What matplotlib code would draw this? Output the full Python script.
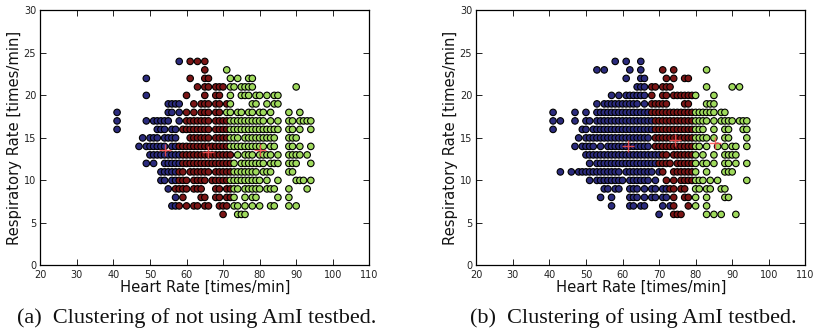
import matplotlib
matplotlib.use("Agg")
import matplotlib.pyplot as plt

# Heart-rate readings (times/min) grouped by respiratory rate (times/min), per cluster.
# Panel (a): not using the AmI testbed
A_BLUE = {
    24: [58],
    22: [49],
    20: [49],
    19: [55, 56, 57, 58],
    18: [41, 55, 56, 58],
    17: [41, 49, 51, 52, 53, 54, 55, 58],
    16: [41, 52, 53, 54, 56, 57],
    15: [48, 50, 51, 52, 54, 55, 56, 57],
    14: [47, 49, 50, 51, 52, 53, 54, 56, 57],
    13: [50, 51, 52, 53, 54, 55, 56, 57, 58],
    12: [49, 51, 54, 55, 56, 57, 58],
    11: [53, 54, 55, 56, 57],
    10: [53, 54, 56, 57],
    9: [55],
    8: [57],
    7: [56, 57],
}
A_RED = {
    24: [61, 63, 65],
    23: [65],
    22: [61, 65, 66],
    21: [63, 65, 66, 68, 69, 70],
    20: [60, 65, 68, 69],
    19: [62, 64, 65, 66, 68, 69, 71],
    18: [60, 62, 64, 65, 66, 68, 69],
    17: [60, 61, 62, 63, 64, 65, 66, 68, 69, 70, 71],
    16: [59, 60, 61, 62, 63, 64, 65, 66, 68, 69, 70, 71],
    15: [61, 62, 63, 64, 65, 66, 68, 69, 70, 71],
    14: [58, 59, 60, 61, 62, 63, 64, 65, 66, 67, 68, 69, 70, 71],
    13: [59, 60, 61, 62, 63, 64, 65, 66, 67, 68, 69, 70, 71, 72],
    12: [59, 60, 61, 62, 63, 64, 65, 66, 67, 68, 69, 70, 71, 72],
    11: [58, 59, 61, 62, 63, 64, 65, 66, 68, 69, 70, 71, 72],
    10: [58, 59, 60, 62, 63, 64, 65, 67, 68, 69, 70, 71],
    9: [57, 58, 59, 60, 62, 63, 64, 68, 69, 71, 72],
    8: [59, 64, 65, 68, 69, 71, 72],
    7: [58, 60, 62, 63, 65, 66, 69, 70, 71],
    6: [70],
}
A_GREEN = {
    23: [71],
    22: [72, 74, 77, 78],
    21: [72, 73, 75, 76, 77, 78, 90],
    20: [72, 75, 76, 77, 79, 80, 82, 84, 85],
    19: [72, 78, 79, 82, 84, 85],
    18: [71, 72, 74, 75, 77, 78, 80, 81, 83, 88, 91],
    17: [72, 73, 74, 75, 76, 77, 78, 79, 80, 81, 83, 85, 88, 89, 91, 92, 93, 94],
    16: [72, 73, 74, 75, 76, 77, 78, 79, 80, 81, 82, 83, 84, 85, 88, 89, 91, 94],
    15: [72, 73, 74, 76, 77, 78, 79, 80, 81, 82, 83, 84, 88, 89, 90],
    14: [72, 73, 74, 75, 76, 77, 78, 79, 80, 81, 83, 84, 88, 89, 91, 94],
    13: [74, 76, 77, 78, 80, 81, 82, 83, 85, 88, 89, 90, 91, 93],
    12: [73, 75, 76, 77, 78, 79, 80, 81, 83, 84, 85, 88, 89, 90, 94],
    11: [73, 74, 75, 76, 77, 78, 79, 81, 82, 83, 88, 89],
    10: [72, 73, 74, 75, 76, 77, 78, 79, 80, 82, 85, 90, 91, 92, 94],
    9: [73, 74, 76, 77, 78, 79, 80, 82, 83, 84, 88, 93],
    8: [73, 76, 78, 79, 85, 88],
    7: [73, 74, 76, 78, 80, 83, 84, 88, 90],
    6: [74, 75, 76],
}
A_CENTERS_HR = [54, 66, 80]
A_CENTERS_RR = [13.6, 13.3, 13.6]

# Panel (b): using the AmI testbed
B_BLUE = {
    24: [58, 61, 65],
    23: [53, 55, 62, 65],
    22: [61, 65, 66],
    21: [64, 65, 66],
    20: [57, 59, 61, 62, 63, 64, 65, 66],
    19: [53, 55, 56, 57, 58, 59, 60, 61, 62, 63, 64, 66],
    18: [41, 47, 50, 53, 54, 55, 56, 57, 58, 59, 60, 61, 62, 63, 64, 65, 66, 67],
    17: [41, 43, 47, 50, 51, 53, 54, 55, 56, 57, 58, 59, 60, 61, 62, 63, 64, 65, 66, 67, 68],
    16: [41, 49, 50, 52, 53, 54, 55, 56, 57, 58, 59, 60, 61, 62, 63, 64, 65, 66, 67, 68],
    15: [48, 50, 51, 52, 53, 54, 55, 56, 57, 58, 59, 60, 61, 62, 63, 64, 65, 66, 67],
    14: [47, 49, 50, 51, 52, 54, 56, 57, 58, 59, 60, 61, 62, 63, 64, 65, 66, 67],
    13: [50, 51, 52, 53, 54, 55, 56, 57, 58, 59, 60, 61, 62, 63, 64, 65, 66, 67, 68, 69, 70],
    12: [51, 53, 54, 55, 56, 57, 58, 59, 60, 61, 62, 63, 64, 65, 66, 67, 68, 69],
    11: [43, 46, 48, 49, 50, 51, 52, 53, 54, 55, 56, 57, 58, 59, 61, 62, 63, 64, 65, 66, 67, 68, 70],
    10: [51, 53, 54, 55, 56, 57, 58, 59, 60, 62, 63, 64, 65, 66, 67, 69],
    9: [55, 56, 58, 59, 62, 63, 64, 66, 68, 69, 71, 72],
    8: [54, 57, 62, 63, 64, 66, 68, 69, 71, 72],
    7: [57, 62, 63, 65, 66, 71, 73],
    6: [70],
}
B_RED = {
    23: [71, 74],
    22: [72, 74, 77, 78],
    21: [68, 69, 71, 72, 73],
    20: [68, 71, 72, 74, 75, 76, 77, 78, 79],
    19: [68, 69, 70, 71, 72, 77, 78],
    18: [68, 69, 70, 71, 72, 73, 74, 75, 76, 77, 78, 79],
    17: [69, 70, 71, 72, 73, 74, 75, 76, 77, 78, 79],
    16: [69, 70, 71, 72, 73, 74, 75, 76, 77, 78, 79],
    15: [69, 70, 71, 72, 73, 74, 75, 76, 77, 78, 79],
    14: [69, 70, 71, 72, 73, 74, 75, 76, 77, 78, 79],
    13: [71, 72, 74, 75, 76, 77, 78, 79],
    12: [70, 71, 72, 73, 75, 76, 77, 78, 79],
    11: [71, 74, 75, 76, 77, 78, 79],
    10: [72, 74, 76, 77, 78, 79],
    9: [73, 74, 76, 77],
    8: [74, 77, 78],
    7: [74, 78],
    6: [74, 75, 76],
}
B_GREEN = {
    23: [83],
    21: [83, 90, 92],
    20: [80, 85],
    19: [83, 84, 85],
    18: [80, 81, 82, 83, 84, 85, 87, 88],
    17: [80, 81, 82, 83, 85, 87, 88, 89, 90, 92, 93, 94],
    16: [80, 81, 82, 85, 88, 89, 93, 94],
    15: [80, 81, 82, 83, 85, 88, 89, 94],
    14: [80, 81, 83, 86, 88, 90, 91, 94],
    13: [80, 82, 85, 88, 89, 90, 91],
    12: [80, 82, 83, 85, 88, 89, 91, 94],
    11: [80, 83, 88, 89, 90],
    10: [80, 81, 82, 84, 86, 94],
    9: [80, 81, 83, 84, 87, 88],
    8: [80, 83, 88, 89],
    7: [80, 83],
    6: [83, 85, 87, 91],
}
B_CENTERS_HR = [61.5, 74.3, 85.2]
B_CENTERS_RR = [14.1, 14.7, 14.4]

X_TICKS = [20, 30, 40, 50, 60, 70, 80, 90, 100, 110]
Y_TICKS = [0, 5, 10, 15, 20, 25, 30]
CAPTIONS = ["(a)\u2002Clustering of not using AmI testbed.",
            "(b)\u2002Clustering of using AmI testbed."]

BLUE = "#2b2b7d"
RED = "#7a1515"
GREEN = "#9fda5c"


def collect(groups):
    """Flatten the per-row dictionaries into (hr, rr, colour) triples."""
    pts = []
    for rows, colour in groups:
        for rr, hrs in rows.items():
            for hr in hrs:
                pts.append((hr, rr, colour))
    pts.sort(key=lambda p: (p[0], p[1]))
    return pts


fig = plt.figure(figsize=(8.16, 3.33), dpi=100)
W, H = 816.0, 333.0
panels = [
    (40.3, collect([(A_BLUE, BLUE), (A_RED, RED), (A_GREEN, GREEN)]),
     A_CENTERS_HR, A_CENTERS_RR, CAPTIONS[0], 196.5),
    (476.3, collect([(B_BLUE, BLUE), (B_RED, RED), (B_GREEN, GREEN)]),
     B_CENTERS_HR, B_CENTERS_RR, CAPTIONS[1], 633.0),
]

for left, pts, chr_, crr, caption, cap_x in panels:
    ax = fig.add_axes([left / W, (H - 265.4) / H, 329.0 / W, 255.0 / H])
    ax.scatter([p[0] for p in pts], [p[1] for p in pts],
               c=[p[2] for p in pts], s=22, edgecolors="black",
               linewidths=0.8, zorder=2)
    ax.plot(chr_, crr, linestyle="none", marker="+", markersize=9,
            markeredgewidth=1.0, color="#ff5050", alpha=0.85, zorder=3)
    ax.set_xlim(20, 110)
    ax.set_ylim(0, 30)
    ax.set_xticks(X_TICKS)
    ax.set_yticks(Y_TICKS)
    ax.tick_params(direction="in", top=True, right=True, length=4,
                   width=0.7, labelsize=7, colors="#222222")
    ax.tick_params(axis="x", pad=3.5)
    ax.tick_params(axis="y", pad=3)
    for sp in ax.spines.values():
        sp.set_linewidth(0.9)
    ax.text(0.502, -0.085, "Heart Rate [times/min]", transform=ax.transAxes,
            ha="center", va="center", fontsize=10.6, color="#111111")
    ax.text(-0.078, 0.5, "Respiratory Rate [times/min]", transform=ax.transAxes,
            ha="center", va="center", rotation=90, fontsize=10.6,
            color="#111111")
    fig.text(cap_x / W, (H - 318.0) / H, caption, ha="center", va="center",
             fontsize=16, family="Liberation Serif", color="#111111")

fig.savefig("out.png", dpi=100)
